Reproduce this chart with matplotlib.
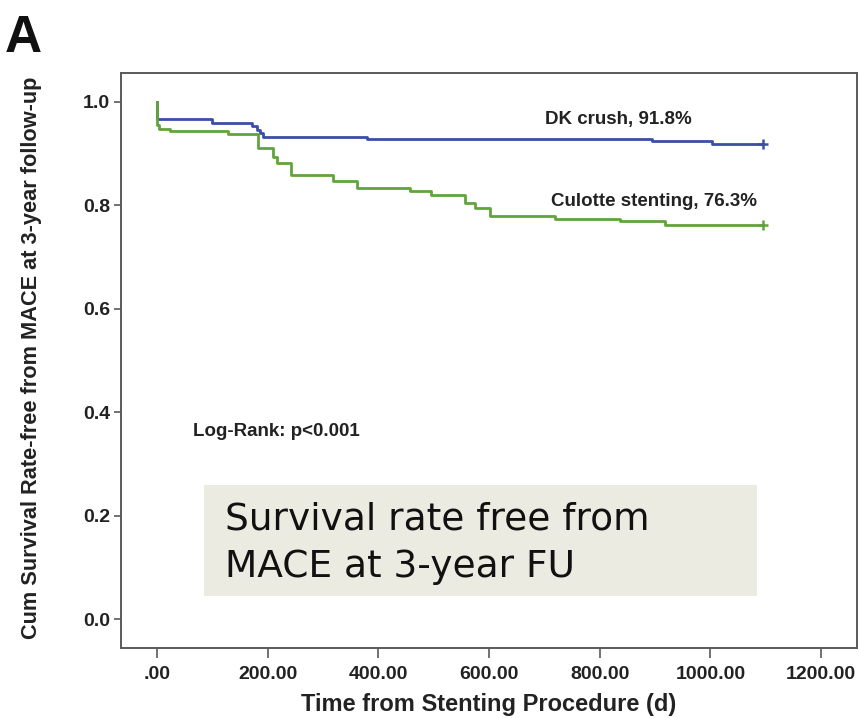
import matplotlib
matplotlib.use("Agg")
import matplotlib.pyplot as plt

# Kaplan-Meier step data (days, survival free from MACE)
dk_days = [0, 0, 99, 172, 181, 187, 192, 380, 895, 1003, 1095]
dk_surv = [1.0, 0.967, 0.960, 0.953, 0.946, 0.939, 0.933, 0.928, 0.925, 0.918, 0.918]

cul_days = [0, 0, 3, 23, 129, 183, 210, 216, 243, 319, 361, 457, 496, 557, 575, 602, 719, 837, 918, 1095]
cul_surv = [1.0, 0.955, 0.948, 0.943, 0.938, 0.910, 0.894, 0.881, 0.859, 0.848, 0.833,
            0.827, 0.820, 0.804, 0.794, 0.779, 0.773, 0.769, 0.763, 0.763]

x_ticks = [0, 200, 400, 600, 800, 1000, 1200]
x_tick_labels = [".00", "200.00", "400.00", "600.00", "800.00", "1000.00", "1200.00"]
y_ticks = [0.0, 0.2, 0.4, 0.6, 0.8, 1.0]

dk_label = "DK crush, 91.8%"
cul_label = "Culotte stenting, 76.3%"

BLUE = "#3a4ea6"
GREEN = "#62a33c"
FRAME = "#5a5a5a"
TXT = "#222222"

plt.rcParams["font.family"] = ["Liberation Sans", "DejaVu Sans"]

fig = plt.figure(figsize=(8.59, 7.18), dpi=100)
ax = fig.add_axes([121 / 859, 1 - 648 / 718, 736 / 859, 575 / 718])

ax.step(dk_days, dk_surv, where="post", color=BLUE, lw=2)
ax.step(cul_days, cul_surv, where="post", color=GREEN, lw=2)
ax.plot(dk_days[-1], dk_surv[-1], marker="+", color=BLUE, ms=7, mew=1.8)
ax.plot(cul_days[-1], cul_surv[-1], marker="+", color=GREEN, ms=7, mew=1.8)

ax.set_xlim(-65, 1265)
ax.set_ylim(-0.056, 1.056)
ax.set_xticks(x_ticks)
ax.set_xticklabels(x_tick_labels)
ax.set_yticks(y_ticks)
ax.set_yticklabels([f"{v:.1f}" for v in y_ticks])

for s in ax.spines.values():
    s.set_color(FRAME)
    s.set_linewidth(1.4)
ax.tick_params(axis="both", colors=TXT, labelsize=14, width=1.2, color=FRAME)
ax.tick_params(axis="x", length=7, pad=6)
ax.tick_params(axis="y", length=5, pad=3)
for lbl in ax.get_xticklabels() + ax.get_yticklabels():
    lbl.set_fontweight("bold")

fig.text(489 / 859, 1 - 705 / 718, "Time from Stenting Procedure (d)",
         ha="center", va="center", fontsize=17, fontweight="bold", color=TXT)
fig.text(32 / 859, 1 - 358 / 718, "Cum Survival Rate-free from MACE at 3-year follow-up",
         rotation=90, ha="center", va="center", fontsize=15.7, fontweight="bold", color=TXT)

ax.text(967, 0.967, dk_label, ha="right", va="center", fontsize=13.5, fontweight="bold", color=TXT)
ax.text(1085, 0.808, cul_label, ha="right", va="center", fontsize=13.5, fontweight="bold", color=TXT)
ax.text(65, 0.363, "Log-Rank: p<0.001", ha="left", va="center", fontsize=13.5, fontweight="bold", color=TXT)

# caption box
fig.patches.append(plt.Rectangle((204 / 859, 1 - 596 / 718), 553 / 859, 111 / 718,
                                 transform=fig.transFigure, facecolor="#ecebe1", edgecolor="none", zorder=5))
fig.text(225 / 859, 1 - 530 / 718, "Survival rate free from",
         ha="left", va="baseline", fontsize=27, family="DejaVu Sans", color="#111111", zorder=6)
fig.text(225 / 859, 1 - 577 / 718, "MACE at 3-year FU",
         ha="left", va="baseline", fontsize=27, family="DejaVu Sans", color="#111111", zorder=6)

fig.text(5 / 859, 1 - 52 / 718, "A", ha="left", va="baseline", fontsize=37, fontweight="bold", color="#111111")

fig.savefig("out.png", dpi=100)
